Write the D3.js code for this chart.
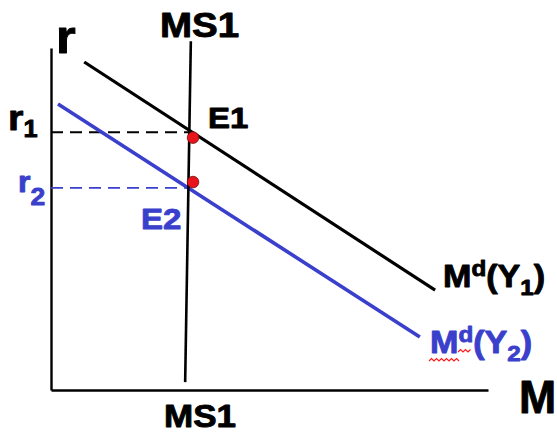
<!DOCTYPE html>
<html><head><meta charset="utf-8">
<script src="https://cdn.jsdelivr.net/npm/d3@7"></script>
<style>html,body{margin:0;padding:0;background:#fff;}svg{display:block;}</style>
</head><body>
<svg id="c" width="557" height="443"></svg>
<script>
// ---- data (arbitrary units: M on x 0..100, r on y 0..100) ----
const axisDomainX = [0, 100];
const axisDomainY = [0, 100];
const ms1Line = [{m: 32.0, r: 102.0}, {m: 30.7, r: 2.3}];
const md1Line = [{m: 7.6, r: 95.9}, {m: 87.9, r: 29.2}];
const md2Line = [{m: 1.6, r: 83.6}, {m: 84.4, r: 15.5}];
const rLevels = [{name: "r1", r: 75.4, mEnd: 31.8}, {name: "r2", r: 59.1, mEnd: 31.1}];
const equilibria = [{name: "E1", m: 32.5, r: 73.8}, {name: "E2", m: 32.5, r: 60.8}];

const BLUE = "#3a3fcc", BLACK = "#000", RED = "#e8141c";
const FONT = "'Liberation Sans', Arial, sans-serif";

const svg = d3.select("#c");
const x = d3.scaleLinear().domain(axisDomainX).range([51, 488]);
const y = d3.scaleLinear().domain(axisDomainY).range([390, 48]);

// axes (domain lines only)
const ax = svg.append("g").attr("transform", `translate(0,${y(0)})`)
  .call(d3.axisBottom(x).tickValues([]).tickSizeOuter(0));
const ay = svg.append("g").attr("transform", `translate(${x(0)},0)`)
  .call(d3.axisLeft(y).tickValues([]).tickSizeOuter(0));
[ax, ay].forEach(g => g.select(".domain").attr("stroke", BLACK).attr("stroke-width", 2.4));

const line = d3.line().x(d => x(d.m)).y(d => y(d.r));

// dashed guides
svg.selectAll(".guide").data(rLevels).join("line")
  .attr("x1", x(0)).attr("x2", d => x(d.mEnd))
  .attr("y1", d => y(d.r)).attr("y2", d => y(d.r))
  .attr("stroke", (d, i) => i === 0 ? BLACK : BLUE)
  .attr("stroke-width", (d, i) => i === 0 ? 2 : 1.8)
  .attr("stroke-dasharray", "12,7");

// curves
svg.append("path").datum(md1Line).attr("d", line).attr("stroke", BLACK).attr("stroke-width", 3.2).attr("fill", "none");
svg.append("path").datum(md2Line).attr("d", line).attr("stroke", BLUE).attr("stroke-width", 3.6).attr("fill", "none");
svg.append("path").datum(ms1Line).attr("d", line).attr("stroke", BLACK).attr("stroke-width", 2.6).attr("fill", "none");

// equilibrium dots
svg.selectAll(".eq").data(equilibria).join("circle")
  .attr("cx", d => x(d.m)).attr("cy", d => y(d.r)).attr("r", 5.8)
  .attr("fill", RED).attr("stroke", "#7a0a0a").attr("stroke-width", 0.8);

// text helper
function label(px, py, parts, color, sx) {
  const t = svg.append("text")
    .attr("transform", `translate(${px},${py}) scale(${sx || 1.1},1)`)
    .attr("font-family", FONT).attr("font-weight", "bold").attr("fill", color)
    .attr("stroke", color).attr("stroke-width", 0.9).attr("stroke-linejoin", "round");
  parts.forEach(p => {
    t.append("tspan").text(p.t).attr("font-size", p.s)
      .attr("dy", p.dy || 0);
  });
  return t;
}

label(56, 53, [{t: "r", s: 46}], BLACK);
label(160, 37, [{t: "MS1", s: 35}], BLACK);
label(164, 427, [{t: "MS1", s: 31}], BLACK, 1.13);
label(8, 130, [{t: "r", s: 36}, {t: "1", s: 23, dy: 7}], BLACK);
label(18, 192, [{t: "r", s: 29}, {t: "2", s: 24, dy: 13}], BLUE);
label(208, 128, [{t: "E1", s: 30}], BLACK);
label(141, 229, [{t: "E2", s: 30}], BLUE);
label(443, 287, [{t: "M", s: 31}, {t: "d", s: 22, dy: -11}, {t: "(Y", s: 31, dy: 11}, {t: "1", s: 22, dy: 8}, {t: ")", s: 31, dy: -8}], BLACK);
label(430, 353, [{t: "M", s: 31}, {t: "d", s: 22, dy: -11}, {t: "(Y", s: 31, dy: 11}, {t: "2", s: 22, dy: 8}, {t: ")", s: 31, dy: -8}], BLUE);
label(519, 413, [{t: "M", s: 47}], BLACK, 0.95);

// spell-check squiggle under "Md" of Md(Y2)
function squiggle(x0, x1, yy) {
  let d = `M${x0},${yy}`;
  let up = true;
  for (let xx = x0 + 2.5; xx <= x1; xx += 2.5) { d += `L${xx},${yy + (up ? -2.5 : 0)}`; up = !up; }
  svg.append("path").attr("d", d).attr("stroke", "#ff1a1a").attr("stroke-width", 1.2).attr("fill", "none");
}
squiggle(429, 460, 361);
squiggle(458, 471, 352);
</script>
</body></html>
